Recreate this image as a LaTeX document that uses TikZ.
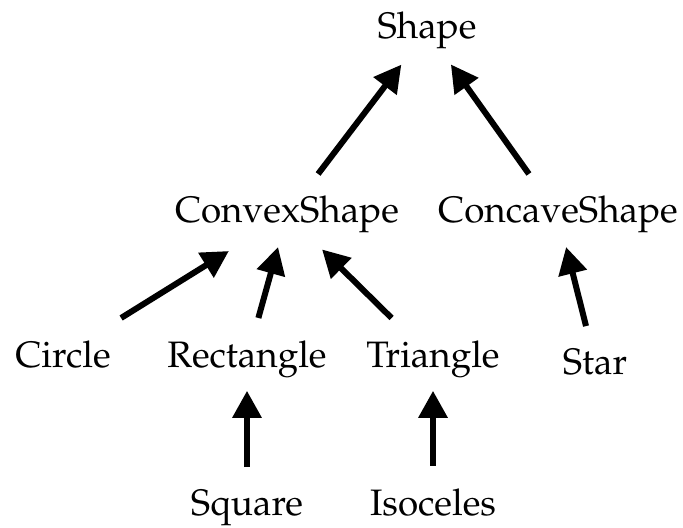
\documentclass[tikz,border=0pt]{standalone}
\usepackage[T1]{fontenc}
\usepackage{mathpazo}
\usepackage{xcolor}
\usepackage{tikz}
\usetikzlibrary{arrows.meta,positioning}
\definecolor{clsInk}{HTML}{000000}
\tikzset{
  cls diagram/.style={x=0.5pt, y=-0.5pt, text=clsInk,
    font=\fontsize{18.4pt}{22pt}\selectfont},
  cls name/.style={inner sep=11pt, anchor=base},
  cls arrow/.style={-{Triangle[length=13.5pt, width=14pt]}, draw=clsInk,
    line width=3pt, shorten >=-4.5pt}
}
\begin{document}
\begin{tikzpicture}[cls diagram]
\useasboundingbox (0,0) rectangle (683,528);
% class names
\node[cls name] (shape)    at (427,39)  {Shape};
\node[cls name] (convex)   at (287,223) {ConvexShape};
\node[cls name] (concave)  at (558,223) {ConcaveShape};
\node[cls name] (circle)   at (63,367)  {Circle};
\node[cls name] (rect)     at (247,367) {Rectangle};
\node[cls name] (triangle) at (433,367) {Triangle};
\node[cls name] (star)     at (595,374) {Star};
\node[cls name] (square)   at (247,515) {Square};
\node[cls name] (isoceles) at (433,515) {Isoceles};
% subclass -> superclass
\foreach \sub/\super in {convex/shape,concave/shape,circle/convex,rect/convex,
    triangle/convex,star/concave,square/rect,isoceles/triangle}
  \draw[cls arrow] (\sub) -- (\super);
\end{tikzpicture}
\end{document}
